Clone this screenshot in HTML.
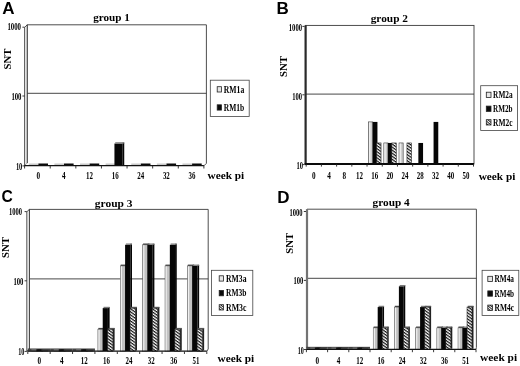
<!DOCTYPE html>
<html><head><meta charset="utf-8"><title>SNT by group</title>
<style>
html,body{margin:0;padding:0;background:#fff;}
body{width:520px;height:366px;overflow:hidden;font-family:"Liberation Serif",serif;}
svg{display:block;filter:blur(0.35px)}
</style></head><body>
<svg width="520" height="366" viewBox="0 0 520 366">
<defs>
<pattern id="hatch" width="2.5" height="2.5" patternUnits="userSpaceOnUse" patternTransform="rotate(35)">
<rect width="2.5" height="2.5" fill="#fff"/><rect width="2.5" height="1.2" fill="#111"/></pattern>
<pattern id="hatch2" width="1.9" height="1.9" patternUnits="userSpaceOnUse" patternTransform="rotate(40)">
<rect width="1.9" height="1.9" fill="#fff"/><rect width="1.9" height="0.95" fill="#222"/></pattern>
</defs>
<rect width="520" height="366" fill="#fff"/>
<text x="2.3" y="13.5" font-size="17" font-family="Liberation Sans, sans-serif" font-weight="bold">A</text>
<text x="93.20" y="21.00" font-size="11.0" text-anchor="start" font-family="Liberation Serif, serif" font-weight="bold" textLength="36.70" lengthAdjust="spacingAndGlyphs" >group 1</text>
<path d="M27.2,163.3 L27.2,24.8 L206.4,24.8 L206.4,163.3" fill="#fff" stroke="#3a3a3a" stroke-width="0.9"/>
<line x1="27.20" y1="93.30" x2="206.40" y2="93.30" stroke="#333" stroke-width="0.9"/>
<polygon points="27.2,24.8 24.599999999999998,27.400000000000002 24.599999999999998,165.9 27.2,163.3" fill="#f0f0f0" stroke="#2a2a2a" stroke-width="0.8"/>
<line x1="22.40" y1="27.20" x2="24.60" y2="27.20" stroke="#222" stroke-width="0.9"/>
<text x="21.00" y="30.40" font-size="9.8" text-anchor="end" font-family="Liberation Serif, serif" font-weight="bold" textLength="13.60" lengthAdjust="spacingAndGlyphs" >1000</text>
<line x1="22.40" y1="96.00" x2="24.60" y2="96.00" stroke="#222" stroke-width="0.9"/>
<text x="21.50" y="100.00" font-size="9.8" text-anchor="end" font-family="Liberation Serif, serif" font-weight="bold" textLength="10.10" lengthAdjust="spacingAndGlyphs" >100</text>
<line x1="22.40" y1="165.90" x2="24.60" y2="165.90" stroke="#222" stroke-width="0.9"/>
<text x="22.30" y="169.50" font-size="9.8" text-anchor="end" font-family="Liberation Serif, serif" font-weight="bold" textLength="6.40" lengthAdjust="spacingAndGlyphs" >10</text>
<text transform="translate(11.1,59) rotate(-90)" font-size="11.4" text-anchor="middle" font-family="Liberation Serif, serif" font-weight="bold" textLength="20.8" lengthAdjust="spacingAndGlyphs">SNT</text>
<polygon points="27.2,163.3 206.4,163.3 203.9,165.9 24.6,165.9" fill="#fff" stroke="none"/>
<rect x="28.80" y="163.50" width="9.60" height="2.40" fill="#c9c9c9"/>
<rect x="38.40" y="163.50" width="9.60" height="2.40" fill="#0a0a0a"/>
<rect x="54.41" y="163.50" width="9.60" height="2.40" fill="#c9c9c9"/>
<rect x="64.01" y="163.50" width="9.60" height="2.40" fill="#0a0a0a"/>
<rect x="80.03" y="163.50" width="9.60" height="2.40" fill="#c9c9c9"/>
<rect x="89.63" y="163.50" width="9.60" height="2.40" fill="#0a0a0a"/>
<rect x="105.64" y="163.50" width="9.60" height="2.40" fill="#c9c9c9"/>
<rect x="131.26" y="163.50" width="9.60" height="2.40" fill="#c9c9c9"/>
<rect x="140.86" y="163.50" width="9.60" height="2.40" fill="#0a0a0a"/>
<rect x="156.87" y="163.50" width="9.60" height="2.40" fill="#c9c9c9"/>
<rect x="166.47" y="163.50" width="9.60" height="2.40" fill="#0a0a0a"/>
<rect x="182.49" y="163.50" width="9.60" height="2.40" fill="#c9c9c9"/>
<rect x="192.09" y="163.50" width="9.60" height="2.40" fill="#0a0a0a"/>
<rect x="122.64" y="142.53" width="1.60" height="22.47" fill="#060606"/>
<rect x="114.44" y="143.53" width="8.20" height="22.17" fill="#060606"/>
<rect x="115.24" y="142.23" width="9.00" height="1.30" fill="#7a7a7a"/>
<line x1="24.30" y1="165.60" x2="203.90" y2="165.60" stroke="#111" stroke-width="1.2"/>
<line x1="206.40" y1="163.30" x2="203.90" y2="165.90" stroke="#222" stroke-width="0.8"/>
<line x1="24.60" y1="165.90" x2="24.60" y2="168.50" stroke="#222" stroke-width="0.9"/>
<line x1="50.21" y1="165.90" x2="50.21" y2="168.50" stroke="#222" stroke-width="0.9"/>
<line x1="75.83" y1="165.90" x2="75.83" y2="168.50" stroke="#222" stroke-width="0.9"/>
<line x1="101.44" y1="165.90" x2="101.44" y2="168.50" stroke="#222" stroke-width="0.9"/>
<line x1="127.06" y1="165.90" x2="127.06" y2="168.50" stroke="#222" stroke-width="0.9"/>
<line x1="152.67" y1="165.90" x2="152.67" y2="168.50" stroke="#222" stroke-width="0.9"/>
<line x1="178.29" y1="165.90" x2="178.29" y2="168.50" stroke="#222" stroke-width="0.9"/>
<line x1="203.90" y1="165.90" x2="203.90" y2="168.50" stroke="#222" stroke-width="0.9"/>
<text x="38.31" y="179.00" font-size="9.4" text-anchor="middle" font-family="Liberation Serif, serif" font-weight="bold" textLength="3.60" lengthAdjust="spacingAndGlyphs" >0</text>
<text x="63.92" y="179.00" font-size="9.4" text-anchor="middle" font-family="Liberation Serif, serif" font-weight="bold" textLength="3.60" lengthAdjust="spacingAndGlyphs" >4</text>
<text x="89.54" y="179.00" font-size="9.4" text-anchor="middle" font-family="Liberation Serif, serif" font-weight="bold" textLength="6.90" lengthAdjust="spacingAndGlyphs" >12</text>
<text x="115.15" y="179.00" font-size="9.4" text-anchor="middle" font-family="Liberation Serif, serif" font-weight="bold" textLength="6.90" lengthAdjust="spacingAndGlyphs" >16</text>
<text x="140.76" y="179.00" font-size="9.4" text-anchor="middle" font-family="Liberation Serif, serif" font-weight="bold" textLength="6.90" lengthAdjust="spacingAndGlyphs" >24</text>
<text x="166.38" y="179.00" font-size="9.4" text-anchor="middle" font-family="Liberation Serif, serif" font-weight="bold" textLength="6.90" lengthAdjust="spacingAndGlyphs" >32</text>
<text x="191.99" y="179.00" font-size="9.4" text-anchor="middle" font-family="Liberation Serif, serif" font-weight="bold" textLength="6.90" lengthAdjust="spacingAndGlyphs" >36</text>
<text x="207.50" y="178.80" font-size="11.2" text-anchor="start" font-family="Liberation Serif, serif" font-weight="bold" textLength="36.70" lengthAdjust="spacingAndGlyphs" >week pi</text>
<rect x="210.30" y="80.20" width="38.90" height="36.20" fill="#fff" stroke="#444" stroke-width="0.8"/>
<rect x="217.20" y="86.70" width="4.20" height="5.30" fill="#e6e6e6" stroke="#222" stroke-width="0.8"/>
<text x="223.80" y="92.60" font-size="9.8" text-anchor="start" font-family="Liberation Serif, serif" font-weight="bold" textLength="20.50" lengthAdjust="spacingAndGlyphs" >RM1a</text>
<rect x="217.20" y="104.80" width="4.20" height="5.30" fill="#0a0a0a" stroke="#222" stroke-width="0.8"/>
<text x="223.80" y="110.70" font-size="9.8" text-anchor="start" font-family="Liberation Serif, serif" font-weight="bold" textLength="20.50" lengthAdjust="spacingAndGlyphs" >RM1b</text>
<text x="276.4" y="13.7" font-size="17" font-family="Liberation Sans, sans-serif" font-weight="bold">B</text>
<text x="370.70" y="22.30" font-size="11.0" text-anchor="start" font-family="Liberation Serif, serif" font-weight="bold" textLength="37.30" lengthAdjust="spacingAndGlyphs" >group 2</text>
<rect x="305.60" y="25.40" width="168.40" height="138.60" fill="#fff" stroke="#3a3a3a" stroke-width="0.9"/>
<line x1="305.60" y1="94.10" x2="474.00" y2="94.10" stroke="#333" stroke-width="0.9"/>
<line x1="305.60" y1="25.40" x2="305.60" y2="164.00" stroke="#2a2a2a" stroke-width="2.2"/>
<line x1="302.40" y1="26.40" x2="304.60" y2="26.40" stroke="#222" stroke-width="0.9"/>
<text x="302.00" y="31.10" font-size="9.8" text-anchor="end" font-family="Liberation Serif, serif" font-weight="bold" textLength="13.20" lengthAdjust="spacingAndGlyphs" >1000</text>
<line x1="302.40" y1="94.80" x2="304.60" y2="94.80" stroke="#222" stroke-width="0.9"/>
<text x="302.00" y="99.65" font-size="9.8" text-anchor="end" font-family="Liberation Serif, serif" font-weight="bold" textLength="9.80" lengthAdjust="spacingAndGlyphs" >100</text>
<line x1="302.40" y1="164.60" x2="304.60" y2="164.60" stroke="#222" stroke-width="0.9"/>
<text x="303.00" y="169.10" font-size="9.8" text-anchor="end" font-family="Liberation Serif, serif" font-weight="bold" textLength="6.50" lengthAdjust="spacingAndGlyphs" >10</text>
<text transform="translate(287.4,66.6) rotate(-90)" font-size="11.4" text-anchor="middle" font-family="Liberation Serif, serif" font-weight="bold" textLength="20.8" lengthAdjust="spacingAndGlyphs">SNT</text>
<rect x="368.64" y="121.92" width="4.10" height="42.08" fill="#cfcfcf" stroke="#333" stroke-width="0.6"/>
<rect x="369.14" y="122.42" width="1.30" height="41.58" fill="#f2f2f2"/>
<rect x="372.74" y="121.92" width="4.70" height="42.08" fill="#060606"/>
<rect x="376.54" y="142.96" width="4.50" height="21.04" fill="url(#hatch)" stroke="#222" stroke-width="0.6"/>
<rect x="383.85" y="142.96" width="4.10" height="21.04" fill="#cfcfcf" stroke="#333" stroke-width="0.6"/>
<rect x="384.35" y="143.46" width="1.30" height="20.54" fill="#f2f2f2"/>
<rect x="387.95" y="142.96" width="4.70" height="21.04" fill="#060606"/>
<rect x="391.75" y="142.96" width="4.50" height="21.04" fill="url(#hatch)" stroke="#222" stroke-width="0.6"/>
<rect x="399.05" y="142.96" width="4.10" height="21.04" fill="#cfcfcf" stroke="#333" stroke-width="0.6"/>
<rect x="399.55" y="143.46" width="1.30" height="20.54" fill="#f2f2f2"/>
<rect x="406.95" y="142.96" width="4.50" height="21.04" fill="url(#hatch)" stroke="#222" stroke-width="0.6"/>
<rect x="418.36" y="142.96" width="4.70" height="21.04" fill="#060606"/>
<rect x="433.57" y="121.92" width="4.70" height="42.08" fill="#060606"/>
<line x1="304.60" y1="164.00" x2="474.00" y2="164.00" stroke="#0a0a0a" stroke-width="2.1"/>
<line x1="306.20" y1="164.00" x2="306.20" y2="166.60" stroke="#222" stroke-width="0.9"/>
<line x1="321.41" y1="164.00" x2="321.41" y2="166.60" stroke="#222" stroke-width="0.9"/>
<line x1="336.62" y1="164.00" x2="336.62" y2="166.60" stroke="#222" stroke-width="0.9"/>
<line x1="351.83" y1="164.00" x2="351.83" y2="166.60" stroke="#222" stroke-width="0.9"/>
<line x1="367.04" y1="164.00" x2="367.04" y2="166.60" stroke="#222" stroke-width="0.9"/>
<line x1="382.25" y1="164.00" x2="382.25" y2="166.60" stroke="#222" stroke-width="0.9"/>
<line x1="397.45" y1="164.00" x2="397.45" y2="166.60" stroke="#222" stroke-width="0.9"/>
<line x1="412.66" y1="164.00" x2="412.66" y2="166.60" stroke="#222" stroke-width="0.9"/>
<line x1="427.87" y1="164.00" x2="427.87" y2="166.60" stroke="#222" stroke-width="0.9"/>
<line x1="443.08" y1="164.00" x2="443.08" y2="166.60" stroke="#222" stroke-width="0.9"/>
<line x1="458.29" y1="164.00" x2="458.29" y2="166.60" stroke="#222" stroke-width="0.9"/>
<line x1="473.50" y1="164.00" x2="473.50" y2="166.60" stroke="#222" stroke-width="0.9"/>
<text x="313.80" y="179.00" font-size="9.4" text-anchor="middle" font-family="Liberation Serif, serif" font-weight="bold" textLength="3.60" lengthAdjust="spacingAndGlyphs" >0</text>
<text x="329.01" y="179.00" font-size="9.4" text-anchor="middle" font-family="Liberation Serif, serif" font-weight="bold" textLength="3.60" lengthAdjust="spacingAndGlyphs" >4</text>
<text x="344.22" y="179.00" font-size="9.4" text-anchor="middle" font-family="Liberation Serif, serif" font-weight="bold" textLength="3.60" lengthAdjust="spacingAndGlyphs" >8</text>
<text x="359.43" y="179.00" font-size="9.4" text-anchor="middle" font-family="Liberation Serif, serif" font-weight="bold" textLength="6.90" lengthAdjust="spacingAndGlyphs" >12</text>
<text x="374.64" y="179.00" font-size="9.4" text-anchor="middle" font-family="Liberation Serif, serif" font-weight="bold" textLength="6.90" lengthAdjust="spacingAndGlyphs" >16</text>
<text x="389.85" y="179.00" font-size="9.4" text-anchor="middle" font-family="Liberation Serif, serif" font-weight="bold" textLength="6.90" lengthAdjust="spacingAndGlyphs" >20</text>
<text x="405.06" y="179.00" font-size="9.4" text-anchor="middle" font-family="Liberation Serif, serif" font-weight="bold" textLength="6.90" lengthAdjust="spacingAndGlyphs" >24</text>
<text x="420.27" y="179.00" font-size="9.4" text-anchor="middle" font-family="Liberation Serif, serif" font-weight="bold" textLength="6.90" lengthAdjust="spacingAndGlyphs" >28</text>
<text x="435.48" y="179.00" font-size="9.4" text-anchor="middle" font-family="Liberation Serif, serif" font-weight="bold" textLength="6.90" lengthAdjust="spacingAndGlyphs" >32</text>
<text x="450.69" y="179.00" font-size="9.4" text-anchor="middle" font-family="Liberation Serif, serif" font-weight="bold" textLength="6.90" lengthAdjust="spacingAndGlyphs" >40</text>
<text x="465.90" y="179.00" font-size="9.4" text-anchor="middle" font-family="Liberation Serif, serif" font-weight="bold" textLength="6.90" lengthAdjust="spacingAndGlyphs" >50</text>
<text x="478.70" y="180.10" font-size="11.2" text-anchor="start" font-family="Liberation Serif, serif" font-weight="bold" textLength="36.70" lengthAdjust="spacingAndGlyphs" >week pi</text>
<rect x="480.70" y="85.70" width="36.90" height="44.70" fill="#fff" stroke="#444" stroke-width="0.8"/>
<rect x="486.30" y="92.20" width="4.70" height="5.30" fill="#e6e6e6" stroke="#222" stroke-width="0.8"/>
<text x="493.10" y="98.10" font-size="9.8" text-anchor="start" font-family="Liberation Serif, serif" font-weight="bold" textLength="19.50" lengthAdjust="spacingAndGlyphs" >RM2a</text>
<rect x="486.30" y="106.10" width="4.70" height="5.30" fill="#0a0a0a" stroke="#222" stroke-width="0.8"/>
<text x="493.10" y="112.00" font-size="9.8" text-anchor="start" font-family="Liberation Serif, serif" font-weight="bold" textLength="19.50" lengthAdjust="spacingAndGlyphs" >RM2b</text>
<rect x="486.30" y="119.70" width="4.70" height="5.30" fill="url(#hatch2)" stroke="#222" stroke-width="0.8"/>
<text x="493.10" y="125.60" font-size="9.8" text-anchor="start" font-family="Liberation Serif, serif" font-weight="bold" textLength="19.50" lengthAdjust="spacingAndGlyphs" >RM2c</text>
<text x="1.4" y="201.9" font-size="17" font-family="Liberation Sans, sans-serif" font-weight="bold" textLength="11.3" lengthAdjust="spacingAndGlyphs">C</text>
<text x="94.80" y="206.90" font-size="11.0" text-anchor="start" font-family="Liberation Serif, serif" font-weight="bold" textLength="37.70" lengthAdjust="spacingAndGlyphs" >group 3</text>
<path d="M29.4,349.0 L29.4,209.4 L208.2,209.4 L208.2,349.0" fill="#fff" stroke="#3a3a3a" stroke-width="0.9"/>
<line x1="29.40" y1="278.90" x2="208.20" y2="278.90" stroke="#333" stroke-width="0.9"/>
<polygon points="29.4,209.4 26.799999999999997,211.8 26.799999999999997,351.4 29.4,349.0" fill="#f0f0f0" stroke="#2a2a2a" stroke-width="0.8"/>
<line x1="24.60" y1="211.60" x2="26.80" y2="211.60" stroke="#222" stroke-width="0.9"/>
<text x="22.00" y="215.20" font-size="9.8" text-anchor="end" font-family="Liberation Serif, serif" font-weight="bold" textLength="13.00" lengthAdjust="spacingAndGlyphs" >1000</text>
<line x1="24.60" y1="280.80" x2="26.80" y2="280.80" stroke="#222" stroke-width="0.9"/>
<text x="23.40" y="284.60" font-size="9.8" text-anchor="end" font-family="Liberation Serif, serif" font-weight="bold" textLength="10.00" lengthAdjust="spacingAndGlyphs" >100</text>
<line x1="24.60" y1="351.40" x2="26.80" y2="351.40" stroke="#222" stroke-width="0.9"/>
<text x="24.40" y="354.80" font-size="9.8" text-anchor="end" font-family="Liberation Serif, serif" font-weight="bold" textLength="6.20" lengthAdjust="spacingAndGlyphs" >10</text>
<text transform="translate(9.2,247.5) rotate(-90)" font-size="11.4" text-anchor="middle" font-family="Liberation Serif, serif" font-weight="bold" textLength="20.8" lengthAdjust="spacingAndGlyphs">SNT</text>
<polygon points="29.4,349.0 208.2,349.0 206.8,351.4 27.8,351.4" fill="#fff" stroke="none"/>
<rect x="27.80" y="348.80" width="22.38" height="2.60" fill="#5a5a5a"/>
<line x1="27.80" y1="349.00" x2="50.17" y2="349.00" stroke="#222" stroke-width="0.7"/>
<rect x="31.40" y="349.20" width="6.70" height="2.20" fill="#777"/>
<rect x="36.40" y="349.20" width="6.70" height="2.20" fill="#111"/>
<rect x="41.40" y="349.20" width="6.70" height="2.20" fill="#444"/>
<rect x="50.17" y="348.80" width="22.38" height="2.60" fill="#5a5a5a"/>
<line x1="50.17" y1="349.00" x2="72.55" y2="349.00" stroke="#222" stroke-width="0.7"/>
<rect x="53.77" y="349.20" width="6.70" height="2.20" fill="#777"/>
<rect x="58.77" y="349.20" width="6.70" height="2.20" fill="#111"/>
<rect x="63.77" y="349.20" width="6.70" height="2.20" fill="#444"/>
<rect x="72.55" y="348.80" width="22.38" height="2.60" fill="#5a5a5a"/>
<line x1="72.55" y1="349.00" x2="94.92" y2="349.00" stroke="#222" stroke-width="0.7"/>
<rect x="76.15" y="349.20" width="6.70" height="2.20" fill="#777"/>
<rect x="81.15" y="349.20" width="6.70" height="2.20" fill="#111"/>
<rect x="86.15" y="349.20" width="6.70" height="2.20" fill="#444"/>
<rect x="102.92" y="328.20" width="1.70" height="22.30" fill="#555"/>
<rect x="97.92" y="329.20" width="5.00" height="22.00" fill="#c2c2c2" stroke="#4a4a4a" stroke-width="0.55"/>
<rect x="98.42" y="329.70" width="1.20" height="21.50" fill="#f0f0f0"/>
<rect x="98.33" y="327.90" width="6.30" height="1.30" fill="#444"/>
<rect x="107.92" y="307.10" width="1.70" height="43.40" fill="#060606"/>
<rect x="102.72" y="308.10" width="5.20" height="43.10" fill="#060606"/>
<rect x="103.52" y="306.80" width="6.10" height="1.30" fill="#7a7a7a"/>
<rect x="112.92" y="328.20" width="1.70" height="22.30" fill="#222"/>
<rect x="107.62" y="329.20" width="5.30" height="22.00" fill="url(#hatch)" stroke="#222" stroke-width="0.6"/>
<rect x="108.33" y="327.90" width="6.30" height="1.30" fill="#555"/>
<rect x="125.30" y="264.89" width="1.70" height="85.61" fill="#555"/>
<rect x="120.30" y="265.89" width="5.00" height="85.31" fill="#c2c2c2" stroke="#4a4a4a" stroke-width="0.55"/>
<rect x="120.80" y="266.39" width="1.20" height="84.81" fill="#f0f0f0"/>
<rect x="120.70" y="264.59" width="6.30" height="1.30" fill="#444"/>
<rect x="130.30" y="243.79" width="1.70" height="106.71" fill="#060606"/>
<rect x="125.10" y="244.79" width="5.20" height="106.41" fill="#060606"/>
<rect x="125.90" y="243.49" width="6.10" height="1.30" fill="#7a7a7a"/>
<rect x="135.30" y="307.10" width="1.70" height="43.40" fill="#222"/>
<rect x="130.00" y="308.10" width="5.30" height="43.10" fill="url(#hatch)" stroke="#222" stroke-width="0.6"/>
<rect x="130.70" y="306.80" width="6.30" height="1.30" fill="#555"/>
<rect x="147.68" y="243.79" width="1.70" height="106.71" fill="#555"/>
<rect x="142.68" y="244.79" width="5.00" height="106.41" fill="#c2c2c2" stroke="#4a4a4a" stroke-width="0.55"/>
<rect x="143.18" y="245.29" width="1.20" height="105.91" fill="#f0f0f0"/>
<rect x="143.08" y="243.49" width="6.30" height="1.30" fill="#444"/>
<rect x="152.68" y="243.79" width="1.70" height="106.71" fill="#060606"/>
<rect x="147.48" y="244.79" width="5.20" height="106.41" fill="#060606"/>
<rect x="148.28" y="243.49" width="6.10" height="1.30" fill="#7a7a7a"/>
<rect x="157.68" y="307.10" width="1.70" height="43.40" fill="#222"/>
<rect x="152.38" y="308.10" width="5.30" height="43.10" fill="url(#hatch)" stroke="#222" stroke-width="0.6"/>
<rect x="153.08" y="306.80" width="6.30" height="1.30" fill="#555"/>
<rect x="170.05" y="264.89" width="1.70" height="85.61" fill="#555"/>
<rect x="165.05" y="265.89" width="5.00" height="85.31" fill="#c2c2c2" stroke="#4a4a4a" stroke-width="0.55"/>
<rect x="165.55" y="266.39" width="1.20" height="84.81" fill="#f0f0f0"/>
<rect x="165.45" y="264.59" width="6.30" height="1.30" fill="#444"/>
<rect x="175.05" y="243.79" width="1.70" height="106.71" fill="#060606"/>
<rect x="169.85" y="244.79" width="5.20" height="106.41" fill="#060606"/>
<rect x="170.65" y="243.49" width="6.10" height="1.30" fill="#7a7a7a"/>
<rect x="180.05" y="328.20" width="1.70" height="22.30" fill="#222"/>
<rect x="174.75" y="329.20" width="5.30" height="22.00" fill="url(#hatch)" stroke="#222" stroke-width="0.6"/>
<rect x="175.45" y="327.90" width="6.30" height="1.30" fill="#555"/>
<rect x="192.43" y="264.89" width="1.70" height="85.61" fill="#555"/>
<rect x="187.43" y="265.89" width="5.00" height="85.31" fill="#c2c2c2" stroke="#4a4a4a" stroke-width="0.55"/>
<rect x="187.93" y="266.39" width="1.20" height="84.81" fill="#f0f0f0"/>
<rect x="187.83" y="264.59" width="6.30" height="1.30" fill="#444"/>
<rect x="197.43" y="264.89" width="1.70" height="85.61" fill="#060606"/>
<rect x="192.23" y="265.89" width="5.20" height="85.31" fill="#060606"/>
<rect x="193.03" y="264.59" width="6.10" height="1.30" fill="#7a7a7a"/>
<rect x="202.43" y="328.20" width="1.70" height="22.30" fill="#222"/>
<rect x="197.12" y="329.20" width="5.30" height="22.00" fill="url(#hatch)" stroke="#222" stroke-width="0.6"/>
<rect x="197.83" y="327.90" width="6.30" height="1.30" fill="#555"/>
<line x1="27.50" y1="351.10" x2="206.80" y2="351.10" stroke="#111" stroke-width="1.2"/>
<line x1="208.20" y1="349.00" x2="206.80" y2="351.40" stroke="#222" stroke-width="0.8"/>
<line x1="27.80" y1="351.40" x2="27.80" y2="354.00" stroke="#222" stroke-width="0.9"/>
<line x1="50.17" y1="351.40" x2="50.17" y2="354.00" stroke="#222" stroke-width="0.9"/>
<line x1="72.55" y1="351.40" x2="72.55" y2="354.00" stroke="#222" stroke-width="0.9"/>
<line x1="94.92" y1="351.40" x2="94.92" y2="354.00" stroke="#222" stroke-width="0.9"/>
<line x1="117.30" y1="351.40" x2="117.30" y2="354.00" stroke="#222" stroke-width="0.9"/>
<line x1="139.68" y1="351.40" x2="139.68" y2="354.00" stroke="#222" stroke-width="0.9"/>
<line x1="162.05" y1="351.40" x2="162.05" y2="354.00" stroke="#222" stroke-width="0.9"/>
<line x1="184.43" y1="351.40" x2="184.43" y2="354.00" stroke="#222" stroke-width="0.9"/>
<line x1="206.80" y1="351.40" x2="206.80" y2="354.00" stroke="#222" stroke-width="0.9"/>
<text x="39.39" y="364.40" font-size="9.4" text-anchor="middle" font-family="Liberation Serif, serif" font-weight="bold" textLength="3.60" lengthAdjust="spacingAndGlyphs" >0</text>
<text x="61.76" y="364.40" font-size="9.4" text-anchor="middle" font-family="Liberation Serif, serif" font-weight="bold" textLength="3.60" lengthAdjust="spacingAndGlyphs" >4</text>
<text x="84.14" y="364.40" font-size="9.4" text-anchor="middle" font-family="Liberation Serif, serif" font-weight="bold" textLength="6.90" lengthAdjust="spacingAndGlyphs" >12</text>
<text x="106.51" y="364.40" font-size="9.4" text-anchor="middle" font-family="Liberation Serif, serif" font-weight="bold" textLength="6.90" lengthAdjust="spacingAndGlyphs" >16</text>
<text x="128.89" y="364.40" font-size="9.4" text-anchor="middle" font-family="Liberation Serif, serif" font-weight="bold" textLength="6.90" lengthAdjust="spacingAndGlyphs" >24</text>
<text x="151.26" y="364.40" font-size="9.4" text-anchor="middle" font-family="Liberation Serif, serif" font-weight="bold" textLength="6.90" lengthAdjust="spacingAndGlyphs" >32</text>
<text x="173.64" y="364.40" font-size="9.4" text-anchor="middle" font-family="Liberation Serif, serif" font-weight="bold" textLength="6.90" lengthAdjust="spacingAndGlyphs" >36</text>
<text x="196.01" y="364.40" font-size="9.4" text-anchor="middle" font-family="Liberation Serif, serif" font-weight="bold" textLength="6.90" lengthAdjust="spacingAndGlyphs" >51</text>
<text x="217.50" y="361.80" font-size="11.2" text-anchor="start" font-family="Liberation Serif, serif" font-weight="bold" textLength="36.70" lengthAdjust="spacingAndGlyphs" >week pi</text>
<rect x="211.50" y="270.30" width="41.30" height="45.10" fill="#fff" stroke="#444" stroke-width="0.8"/>
<rect x="219.20" y="275.80" width="4.30" height="5.30" fill="#e6e6e6" stroke="#222" stroke-width="0.8"/>
<text x="226.10" y="281.70" font-size="9.8" text-anchor="start" font-family="Liberation Serif, serif" font-weight="bold" textLength="20.40" lengthAdjust="spacingAndGlyphs" >RM3a</text>
<rect x="219.20" y="290.50" width="4.30" height="5.30" fill="#0a0a0a" stroke="#222" stroke-width="0.8"/>
<text x="226.10" y="296.40" font-size="9.8" text-anchor="start" font-family="Liberation Serif, serif" font-weight="bold" textLength="20.40" lengthAdjust="spacingAndGlyphs" >RM3b</text>
<rect x="219.20" y="304.70" width="4.30" height="5.30" fill="url(#hatch2)" stroke="#222" stroke-width="0.8"/>
<text x="226.10" y="310.60" font-size="9.8" text-anchor="start" font-family="Liberation Serif, serif" font-weight="bold" textLength="20.40" lengthAdjust="spacingAndGlyphs" >RM3c</text>
<text x="277.2" y="202.6" font-size="17" font-family="Liberation Sans, sans-serif" font-weight="bold">D</text>
<text x="372.60" y="206.40" font-size="11.0" text-anchor="start" font-family="Liberation Serif, serif" font-weight="bold" textLength="37.10" lengthAdjust="spacingAndGlyphs" >group 4</text>
<path d="M307.0,347.3 L307.0,209.2 L476.4,209.2 L476.4,347.3" fill="#fff" stroke="#3a3a3a" stroke-width="0.9"/>
<line x1="307.00" y1="278.30" x2="476.40" y2="278.30" stroke="#333" stroke-width="0.9"/>
<line x1="307.00" y1="209.20" x2="307.00" y2="349.60" stroke="#737373" stroke-width="2.2"/>
<line x1="303.80" y1="211.50" x2="306.00" y2="211.50" stroke="#222" stroke-width="0.9"/>
<text x="302.50" y="215.70" font-size="9.8" text-anchor="end" font-family="Liberation Serif, serif" font-weight="bold" textLength="13.00" lengthAdjust="spacingAndGlyphs" >1000</text>
<line x1="303.80" y1="280.40" x2="306.00" y2="280.40" stroke="#222" stroke-width="0.9"/>
<text x="303.20" y="284.30" font-size="9.8" text-anchor="end" font-family="Liberation Serif, serif" font-weight="bold" textLength="9.80" lengthAdjust="spacingAndGlyphs" >100</text>
<line x1="303.80" y1="349.50" x2="306.00" y2="349.50" stroke="#222" stroke-width="0.9"/>
<text x="303.80" y="354.20" font-size="9.8" text-anchor="end" font-family="Liberation Serif, serif" font-weight="bold" textLength="6.00" lengthAdjust="spacingAndGlyphs" >10</text>
<text transform="translate(292.9,243.4) rotate(-90)" font-size="11.4" text-anchor="middle" font-family="Liberation Serif, serif" font-weight="bold" textLength="20.8" lengthAdjust="spacingAndGlyphs">SNT</text>
<polygon points="307.0,347.3 476.4,347.3 476.0,349.6 306.4,349.6" fill="#fff" stroke="none"/>
<rect x="306.40" y="347.10" width="21.20" height="2.50" fill="#5a5a5a"/>
<line x1="306.40" y1="347.30" x2="327.60" y2="347.30" stroke="#222" stroke-width="0.7"/>
<rect x="310.25" y="347.50" width="6.15" height="2.10" fill="#777"/>
<rect x="314.90" y="347.50" width="6.15" height="2.10" fill="#111"/>
<rect x="319.55" y="347.50" width="6.15" height="2.10" fill="#444"/>
<rect x="327.60" y="347.10" width="21.20" height="2.50" fill="#5a5a5a"/>
<line x1="327.60" y1="347.30" x2="348.80" y2="347.30" stroke="#222" stroke-width="0.7"/>
<rect x="331.45" y="347.50" width="6.15" height="2.10" fill="#777"/>
<rect x="336.10" y="347.50" width="6.15" height="2.10" fill="#111"/>
<rect x="340.75" y="347.50" width="6.15" height="2.10" fill="#444"/>
<rect x="348.80" y="347.10" width="21.20" height="2.50" fill="#5a5a5a"/>
<line x1="348.80" y1="347.30" x2="370.00" y2="347.30" stroke="#222" stroke-width="0.7"/>
<rect x="352.65" y="347.50" width="6.15" height="2.10" fill="#777"/>
<rect x="357.30" y="347.50" width="6.15" height="2.10" fill="#111"/>
<rect x="361.95" y="347.50" width="6.15" height="2.10" fill="#444"/>
<rect x="377.90" y="326.83" width="1.50" height="21.87" fill="#555"/>
<rect x="373.25" y="327.83" width="4.65" height="21.57" fill="#c2c2c2" stroke="#4a4a4a" stroke-width="0.55"/>
<rect x="373.75" y="328.33" width="1.20" height="21.07" fill="#f0f0f0"/>
<rect x="373.65" y="326.53" width="5.75" height="1.30" fill="#444"/>
<rect x="382.55" y="306.06" width="1.50" height="42.64" fill="#060606"/>
<rect x="377.70" y="307.06" width="4.85" height="42.34" fill="#060606"/>
<rect x="378.50" y="305.76" width="5.55" height="1.30" fill="#7a7a7a"/>
<rect x="387.20" y="326.83" width="1.50" height="21.87" fill="#222"/>
<rect x="382.25" y="327.83" width="4.95" height="21.57" fill="url(#hatch)" stroke="#222" stroke-width="0.6"/>
<rect x="382.95" y="326.53" width="5.75" height="1.30" fill="#555"/>
<rect x="399.10" y="306.06" width="1.50" height="42.64" fill="#555"/>
<rect x="394.45" y="307.06" width="4.65" height="42.34" fill="#c2c2c2" stroke="#4a4a4a" stroke-width="0.55"/>
<rect x="394.95" y="307.56" width="1.20" height="41.84" fill="#f0f0f0"/>
<rect x="394.85" y="305.76" width="5.75" height="1.30" fill="#444"/>
<rect x="403.75" y="285.29" width="1.50" height="63.41" fill="#060606"/>
<rect x="398.90" y="286.29" width="4.85" height="63.11" fill="#060606"/>
<rect x="399.70" y="284.99" width="5.55" height="1.30" fill="#7a7a7a"/>
<rect x="408.40" y="326.83" width="1.50" height="21.87" fill="#222"/>
<rect x="403.45" y="327.83" width="4.95" height="21.57" fill="url(#hatch)" stroke="#222" stroke-width="0.6"/>
<rect x="404.15" y="326.53" width="5.75" height="1.30" fill="#555"/>
<rect x="420.30" y="326.83" width="1.50" height="21.87" fill="#555"/>
<rect x="415.65" y="327.83" width="4.65" height="21.57" fill="#c2c2c2" stroke="#4a4a4a" stroke-width="0.55"/>
<rect x="416.15" y="328.33" width="1.20" height="21.07" fill="#f0f0f0"/>
<rect x="416.05" y="326.53" width="5.75" height="1.30" fill="#444"/>
<rect x="424.95" y="306.06" width="1.50" height="42.64" fill="#060606"/>
<rect x="420.10" y="307.06" width="4.85" height="42.34" fill="#060606"/>
<rect x="420.90" y="305.76" width="5.55" height="1.30" fill="#7a7a7a"/>
<rect x="429.60" y="306.06" width="1.50" height="42.64" fill="#222"/>
<rect x="424.65" y="307.06" width="4.95" height="42.34" fill="url(#hatch)" stroke="#222" stroke-width="0.6"/>
<rect x="425.35" y="305.76" width="5.75" height="1.30" fill="#555"/>
<rect x="441.50" y="326.83" width="1.50" height="21.87" fill="#555"/>
<rect x="436.85" y="327.83" width="4.65" height="21.57" fill="#c2c2c2" stroke="#4a4a4a" stroke-width="0.55"/>
<rect x="437.35" y="328.33" width="1.20" height="21.07" fill="#f0f0f0"/>
<rect x="437.25" y="326.53" width="5.75" height="1.30" fill="#444"/>
<rect x="446.15" y="326.83" width="1.50" height="21.87" fill="#060606"/>
<rect x="441.30" y="327.83" width="4.85" height="21.57" fill="#060606"/>
<rect x="442.10" y="326.53" width="5.55" height="1.30" fill="#7a7a7a"/>
<rect x="450.80" y="326.83" width="1.50" height="21.87" fill="#222"/>
<rect x="445.85" y="327.83" width="4.95" height="21.57" fill="url(#hatch)" stroke="#222" stroke-width="0.6"/>
<rect x="446.55" y="326.53" width="5.75" height="1.30" fill="#555"/>
<rect x="462.70" y="326.83" width="1.50" height="21.87" fill="#555"/>
<rect x="458.05" y="327.83" width="4.65" height="21.57" fill="#c2c2c2" stroke="#4a4a4a" stroke-width="0.55"/>
<rect x="458.55" y="328.33" width="1.20" height="21.07" fill="#f0f0f0"/>
<rect x="458.45" y="326.53" width="5.75" height="1.30" fill="#444"/>
<rect x="467.35" y="326.83" width="1.50" height="21.87" fill="#060606"/>
<rect x="462.50" y="327.83" width="4.85" height="21.57" fill="#060606"/>
<rect x="463.30" y="326.53" width="5.55" height="1.30" fill="#7a7a7a"/>
<rect x="472.00" y="306.06" width="1.50" height="42.64" fill="#222"/>
<rect x="467.05" y="307.06" width="4.95" height="42.34" fill="url(#hatch)" stroke="#222" stroke-width="0.6"/>
<rect x="467.75" y="305.76" width="5.75" height="1.30" fill="#555"/>
<line x1="306.10" y1="349.30" x2="476.00" y2="349.30" stroke="#111" stroke-width="1.2"/>
<line x1="476.40" y1="347.30" x2="476.00" y2="349.60" stroke="#222" stroke-width="0.8"/>
<line x1="306.40" y1="349.60" x2="306.40" y2="352.20" stroke="#222" stroke-width="0.9"/>
<line x1="327.60" y1="349.60" x2="327.60" y2="352.20" stroke="#222" stroke-width="0.9"/>
<line x1="348.80" y1="349.60" x2="348.80" y2="352.20" stroke="#222" stroke-width="0.9"/>
<line x1="370.00" y1="349.60" x2="370.00" y2="352.20" stroke="#222" stroke-width="0.9"/>
<line x1="391.20" y1="349.60" x2="391.20" y2="352.20" stroke="#222" stroke-width="0.9"/>
<line x1="412.40" y1="349.60" x2="412.40" y2="352.20" stroke="#222" stroke-width="0.9"/>
<line x1="433.60" y1="349.60" x2="433.60" y2="352.20" stroke="#222" stroke-width="0.9"/>
<line x1="454.80" y1="349.60" x2="454.80" y2="352.20" stroke="#222" stroke-width="0.9"/>
<line x1="476.00" y1="349.60" x2="476.00" y2="352.20" stroke="#222" stroke-width="0.9"/>
<text x="317.30" y="363.60" font-size="9.4" text-anchor="middle" font-family="Liberation Serif, serif" font-weight="bold" textLength="3.60" lengthAdjust="spacingAndGlyphs" >0</text>
<text x="338.50" y="363.60" font-size="9.4" text-anchor="middle" font-family="Liberation Serif, serif" font-weight="bold" textLength="3.60" lengthAdjust="spacingAndGlyphs" >4</text>
<text x="359.70" y="363.60" font-size="9.4" text-anchor="middle" font-family="Liberation Serif, serif" font-weight="bold" textLength="6.90" lengthAdjust="spacingAndGlyphs" >12</text>
<text x="380.90" y="363.60" font-size="9.4" text-anchor="middle" font-family="Liberation Serif, serif" font-weight="bold" textLength="6.90" lengthAdjust="spacingAndGlyphs" >16</text>
<text x="402.10" y="363.60" font-size="9.4" text-anchor="middle" font-family="Liberation Serif, serif" font-weight="bold" textLength="6.90" lengthAdjust="spacingAndGlyphs" >24</text>
<text x="423.30" y="363.60" font-size="9.4" text-anchor="middle" font-family="Liberation Serif, serif" font-weight="bold" textLength="6.90" lengthAdjust="spacingAndGlyphs" >32</text>
<text x="444.50" y="363.60" font-size="9.4" text-anchor="middle" font-family="Liberation Serif, serif" font-weight="bold" textLength="6.90" lengthAdjust="spacingAndGlyphs" >36</text>
<text x="465.70" y="363.60" font-size="9.4" text-anchor="middle" font-family="Liberation Serif, serif" font-weight="bold" textLength="6.90" lengthAdjust="spacingAndGlyphs" >51</text>
<text x="480.10" y="361.20" font-size="11.2" text-anchor="start" font-family="Liberation Serif, serif" font-weight="bold" textLength="37.00" lengthAdjust="spacingAndGlyphs" >week pi</text>
<rect x="482.10" y="270.30" width="36.70" height="45.10" fill="#fff" stroke="#444" stroke-width="0.8"/>
<rect x="487.80" y="276.30" width="4.80" height="5.30" fill="#e6e6e6" stroke="#222" stroke-width="0.8"/>
<text x="494.50" y="282.20" font-size="9.8" text-anchor="start" font-family="Liberation Serif, serif" font-weight="bold" textLength="19.50" lengthAdjust="spacingAndGlyphs" >RM4a</text>
<rect x="487.80" y="290.90" width="4.80" height="5.30" fill="#0a0a0a" stroke="#222" stroke-width="0.8"/>
<text x="494.50" y="296.80" font-size="9.8" text-anchor="start" font-family="Liberation Serif, serif" font-weight="bold" textLength="19.50" lengthAdjust="spacingAndGlyphs" >RM4b</text>
<rect x="487.80" y="305.10" width="4.80" height="5.30" fill="url(#hatch2)" stroke="#222" stroke-width="0.8"/>
<text x="494.50" y="311.00" font-size="9.8" text-anchor="start" font-family="Liberation Serif, serif" font-weight="bold" textLength="19.50" lengthAdjust="spacingAndGlyphs" >RM4c</text>
</svg>
</body></html>
